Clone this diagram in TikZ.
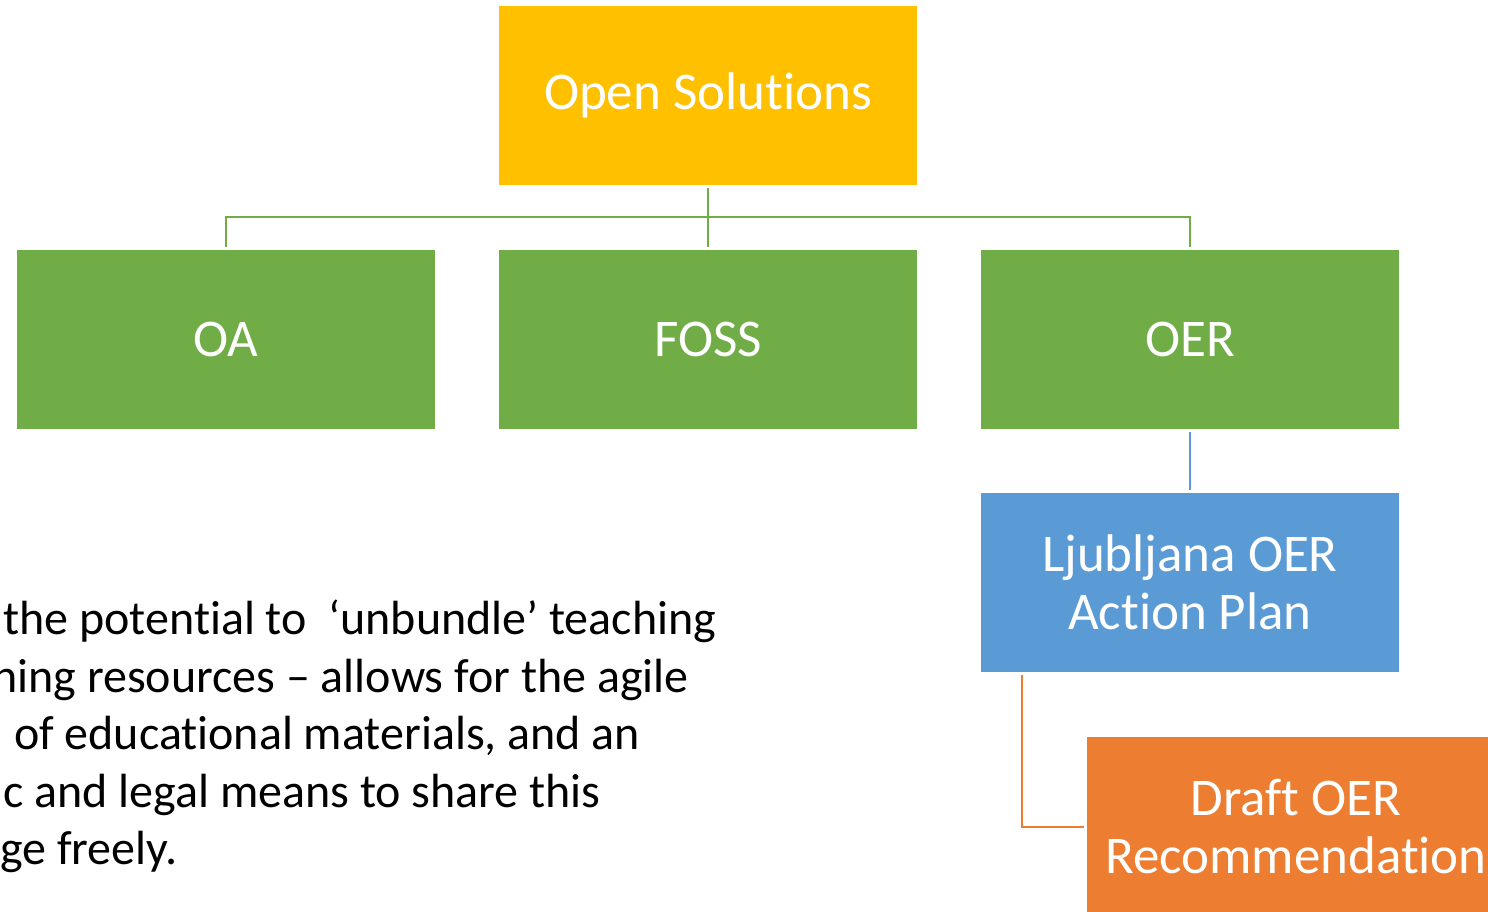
\documentclass[tikz,border=0pt]{standalone}
\usepackage{fontspec}
\setmainfont[Ligatures=NoCommon]{Carlito}
\definecolor{cyellow}{HTML}{FFC000}
\definecolor{cgreen}{HTML}{70AD47}
\definecolor{cblue}{HTML}{5B9BD5}
\definecolor{corange}{HTML}{ED7D31}
\begin{document}
\begin{tikzpicture}[x=1pt,y=-1pt,
  box/.style={rectangle, minimum width=418pt, minimum height=179pt, inner sep=0pt,
    text=white, align=center, font=\fontsize{53}{58}\selectfont},
  conn/.style={line width=2pt},
  body/.style={anchor=base west, inner sep=0pt, font=\fontsize{48}{58}\selectfont, text=black}]
\useasboundingbox (0,0) rectangle (1488,911);
\node[box, fill=cyellow] (os) at (708,95.5) {Open Solutions};
\node[box, fill=cgreen] (oa) at (226,339.5) {OA};
\node[box, fill=cgreen] (foss) at (708,339.5) {FOSS};
\node[box, fill=cgreen] (oer) at (1190,339.5) {OER};
\node[box, fill=cblue] (lj) at (1190,582.5) {Ljubljana OER\\Action Plan};
\node[box, fill=corange] (dr) at (1296,826.5) {Draft OER\\Recommendation};
\coordinate (bar) at (708,217);
\draw[conn, cgreen] ([yshift=-3pt]os.south) -- ([yshift=3pt]foss.north);
\draw[conn, cgreen] ([yshift=3pt]oa.north) |- (bar) -| ([yshift=3pt]oer.north);
\draw[conn, cblue] ([yshift=-3pt]oer.south) -- ([yshift=3pt]lj.north);
\draw[conn, corange] ([xshift=41pt,yshift=-3pt]lj.south west) |- ([xshift=-3pt]dr.west);
\node[body] (l1) at (3,634) {the potential to\ \ ‘unbundle’ teaching};
\node[body] (l2) at (-8,692) {ning resources – allows for the agile};
\node[body] (l3) at (3,749) {\ of educational materials, and an};
\node[body] (l4) at (3,807) {c and legal means to share this};
\node[body] (l5) at (0,864) {ge freely.};
\end{tikzpicture}
\end{document}
